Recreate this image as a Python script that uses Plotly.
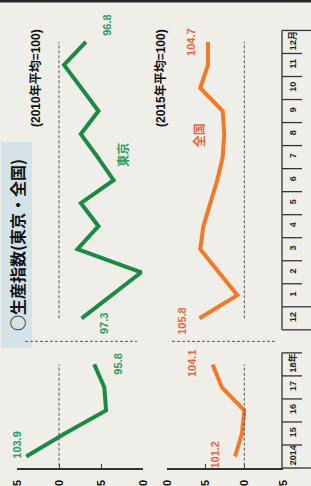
import plotly.graph_objects as go

# ---------------- data ----------------
years = ["2014", "15", "16", "17", "18年"]
months = ["12", "1", "2", "3", "4", "5", "6", "7", "8", "9", "10", "11", "12月"]

tokyo_annual = [103.9, 99.3, 94.4, 94.6, 95.8]
tokyo_monthly = [97.3, 93.8, 90.2, 97.8, 95.3, 97.4, 93.5, 95.4, 97.4, 95.3, 97.4, 99.4, 96.8]

zenkoku_annual = [101.2, 100.3, 100.0, 102.9, 104.1]
zenkoku_monthly = [105.8, 100.9, 103.3, 105.7, 105.3, 104.4, 103.5, 102.8, 102.6, 102.8, 105.7, 104.7, 104.7]

tokyo_ticks = [105, 100, 95, 90]
zenkoku_ticks = [110, 105, 100, 95]

# ---------------- layout helpers ----------------
W, H = 311, 486
year_pos = list(range(len(years)))                       # 0..4
gap_pos = len(years)                                      # 5 (break)
month_pos = [gap_pos + 1 + i for i in range(len(months))]  # 6..18

GREEN = "#1b8a45"
GREEN_TXT = "#2f9a62"
ORANGE = "#f07a2a"
ORANGE_TXT = "#ec6435"
BG = "#efeee9"
LINE = "#333333"
FONT = "Liberation Sans, Noto Sans CJK JP, sans-serif"


def px(x):
    return x / W


def py(y):
    return 1 - y / H


fig = go.Figure()

for xs, ys, color, ax in [
    (tokyo_annual, year_pos, GREEN, "x"),
    (tokyo_monthly, month_pos, GREEN, "x"),
    (zenkoku_annual, year_pos, ORANGE, "x2"),
    (zenkoku_monthly, month_pos, ORANGE, "x2"),
]:
    fig.add_trace(go.Scatter(x=xs, y=ys, mode="lines", xaxis=ax, yaxis="y",
                             line=dict(color=color, width=4), hoverinfo="skip",
                             cliponaxis=False))

# ---------------- shapes ----------------
shapes = []
dash = dict(color="#555555", width=1, dash="3px,2px")
# reference lines at 100
for xr in ["x", "x2"]:
    shapes.append(dict(type="line", xref=xr, yref="y", x0=100, x1=100,
                       y0=year_pos[0] - 0.4, y1=year_pos[-1], line=dash))
    shapes.append(dict(type="line", xref=xr, yref="y", x0=100, x1=100,
                       y0=month_pos[0], y1=month_pos[-1], line=dash))
# break lines
shapes.append(dict(type="line", xref="paper", yref="y", x0=px(25), x1=px(137),
                   y0=gap_pos, y1=gap_pos, line=dash))
shapes.append(dict(type="line", xref="paper", yref="y", x0=px(172), x1=px(277),
                   y0=gap_pos, y1=gap_pos, line=dash))

# time-axis table
tl = dict(color=LINE, width=1.3)
XA, XS, XF = px(282), px(302), 1.0
shapes.append(dict(type="line", xref="paper", yref="y", x0=XA, x1=XA,
                   y0=year_pos[0] - 0.5, y1=year_pos[-1] + 0.5, line=tl))
shapes.append(dict(type="line", xref="paper", yref="y", x0=XA, x1=XA,
                   y0=month_pos[0] - 0.5, y1=month_pos[-1] + 0.5, line=tl))
for p in year_pos[:-1]:
    shapes.append(dict(type="line", xref="paper", yref="y", x0=XA, x1=XS,
                       y0=p + 0.5, y1=p + 0.5, line=tl))
shapes.append(dict(type="line", xref="paper", yref="y", x0=XA, x1=XS,
                   y0=year_pos[-1] + 0.5, y1=year_pos[-1] + 0.5, line=tl))
for p in month_pos[1:-1]:
    shapes.append(dict(type="line", xref="paper", yref="y", x0=XA, x1=XS,
                       y0=p + 0.5, y1=p + 0.5, line=tl))
for yv in [year_pos[0] - 0.5, month_pos[0] - 0.5, month_pos[0] + 0.5, month_pos[-1] + 0.5]:
    shapes.append(dict(type="line", xref="paper", yref="y", x0=XA, x1=XF,
                       y0=yv, y1=yv, line=tl))

# title box
shapes.append(dict(type="rect", xref="paper", yref="paper", x0=px(1), x1=px(32),
                   y0=py(348), y1=py(142), fillcolor="#d3e3e7", line=dict(width=0),
                   layer="below"))
# top frame
shapes.append(dict(type="line", xref="paper", yref="paper", x0=0, x1=1,
                   y0=py(1), y1=py(1), line=dict(color="#2a2a2a", width=3)))

# ---------------- annotations ----------------
ann = []


def lab(text, xr, xv, yv, color, dx, dy, size=11):
    ann.append(dict(text=text, xref=xr, yref="y", x=xv, y=yv, showarrow=False,
                    textangle=-90, xshift=dx, yshift=dy,
                    xanchor="center", yanchor="middle",
                    font=dict(family=FONT, size=size, color=color, weight="bold")))


lab(f"{tokyo_annual[0]}", "x", tokyo_annual[0], year_pos[0], GREEN_TXT, -10, 12)
lab(f"{tokyo_annual[-1]}", "x", tokyo_annual[-1], year_pos[-1], GREEN_TXT, 24, 0)
lab(f"{tokyo_monthly[0]}", "x", tokyo_monthly[0], month_pos[0], GREEN_TXT, 23, -5)
lab(f"{tokyo_monthly[-1]}", "x", tokyo_monthly[-1], month_pos[-1], GREEN_TXT, 21, 17)
lab("東京", "x", tokyo_monthly[7], month_pos[7], GREEN_TXT, 25, 2, 12)

lab(f"{zenkoku_annual[0]}", "x2", zenkoku_annual[0], year_pos[0], ORANGE_TXT, -21, 2)
lab(f"{zenkoku_annual[-1]}", "x2", zenkoku_annual[-1], year_pos[-1], ORANGE_TXT, -20, 1)
lab(f"{zenkoku_monthly[0]}", "x2", zenkoku_monthly[0], month_pos[0], ORANGE_TXT, -17, -2)
lab(f"{zenkoku_monthly[-1]}", "x2", zenkoku_monthly[-1], month_pos[-1], ORANGE_TXT, -17, 0)
lab("全国", "x2", zenkoku_monthly[8], month_pos[8], ORANGE_TXT, -25, -1, 12)

ann.append(dict(text="○生産指数(東京・全国)", xref="paper", yref="paper", x=px(17), y=py(245),
                showarrow=False, textangle=-90, xanchor="center", yanchor="middle",
                font=dict(family="Noto Sans CJK JP", size=16, color="#111111", weight="bold")))
for txt, cx in [("(2010年平均=100)", 35), ("(2015年平均=100)", 160)]:
    ann.append(dict(text=txt, xref="paper", yref="paper", x=px(cx), y=py(78),
                    showarrow=False, textangle=-90, xanchor="center", yanchor="middle",
                    font=dict(family=FONT, size=12, color="#111111", weight="bold")))

# ---------------- axes ----------------
v_bottom = -(H - 456.5) / 23.03
v_top = 456.5 / 23.03

axis_common = dict(showgrid=False, zeroline=False, showline=True, linecolor=LINE,
                   linewidth=1.5, ticks="inside", ticklen=4, tickcolor=LINE,
                   tickangle=-90, anchor="free", position=py(468),
                   ticklabelstandoff=6, automargin=False,
                   tickfont=dict(family=FONT, size=11, color="#111111", weight="bold"))

fig.update_layout(
    width=W, height=H,
    margin=dict(l=0, r=0, t=0, b=0, pad=0, autoexpand=False),
    paper_bgcolor=BG, plot_bgcolor=BG,
    showlegend=False,
    xaxis=dict(domain=[px(17), px(143)], range=[tokyo_ticks[0], tokyo_ticks[-1]],
               tickvals=tokyo_ticks, **axis_common),
    xaxis2=dict(domain=[px(167), px(283)], range=[zenkoku_ticks[0], zenkoku_ticks[-1]],
                tickvals=zenkoku_ticks, **axis_common),
    yaxis=dict(domain=[0, 1], range=[v_bottom, v_top], anchor="free", position=px(282),
               side="right", showgrid=False, zeroline=False, showline=False,
               automargin=False,
               tickvals=year_pos + month_pos, ticktext=years + months,
               ticks="", tickangle=-90, ticklabelstandoff=4,
               tickfont=dict(family=FONT, size=9, color="#222222", weight="bold")),
    shapes=shapes,
    annotations=ann,
)

fig.write_html(
    "out.html",
    config={"displayModeBar": False, "staticPlot": True},
    post_script="document.body.style.margin='0';document.body.style.background='%s';" % BG,
)
